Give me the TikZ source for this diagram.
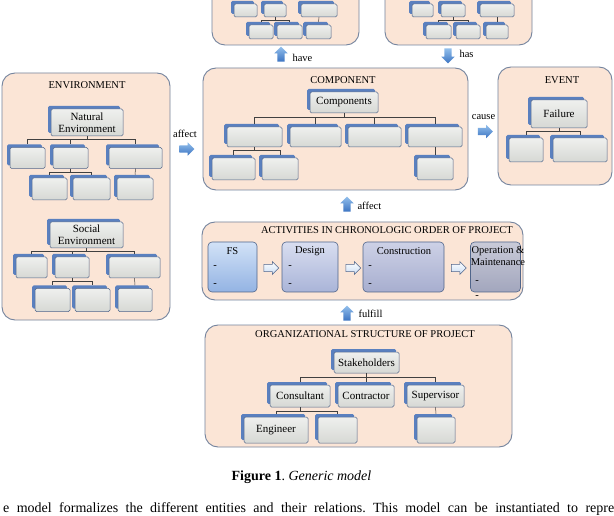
\documentclass[tikz,border=0pt]{standalone}
\usepackage{fontspec}
\setmainfont{Liberation Serif}
\usetikzlibrary{shadows,shapes.arrows}

\definecolor{peach}{HTML}{FBE5D6}
\definecolor{grpline}{HTML}{74849E}
\definecolor{boxline}{HTML}{50658A}
\definecolor{leaftop}{HTML}{EFF0EE}
\definecolor{leafbot}{HTML}{D6D8D4}
\definecolor{shadowblue}{HTML}{5A80BF}
\definecolor{arrowtop}{HTML}{92BFEC}
\definecolor{arrowbot}{HTML}{3C74C2}
\definecolor{arrowpale}{HTML}{C9DDF5}
\definecolor{fstop}{HTML}{D2E2F7}
\definecolor{fsbot}{HTML}{93B3E3}
\definecolor{destop}{HTML}{D9DEF0}
\definecolor{desbot}{HTML}{A9B4D8}
\definecolor{contop}{HTML}{CDD1E6}
\definecolor{conbot}{HTML}{A7AECF}
\definecolor{omtop}{HTML}{C9CAD8}
\definecolor{ombot}{HTML}{A2A6BD}

\begin{document}
\frenchspacing
\begin{tikzpicture}[x=1pt,y=-1pt,
    group/.style={draw=grpline,line width=0.9pt,fill=peach,rounded corners=13pt},
    leaf/.style 2 args={draw=boxline,line width=0.5pt,rounded corners=1.5pt,
      top color=leaftop,bottom color=leafbot,minimum width=#1,minimum height=#2,
      inner sep=0pt,align=center,font=\fontsize{11}{12}\selectfont,
      drop shadow={shadow xshift=-3pt,shadow yshift=3pt,fill=shadowblue,opacity=1}},
    tree/.style={draw=black!75,line width=0.5pt},
    title/.style={font=\fontsize{10.5}{12}\selectfont},
    label/.style={font=\fontsize{10.5}{12}\selectfont},
    bigarrow/.style={single arrow,top color=arrowtop,bottom color=arrowbot,
      minimum height=15pt,minimum width=13pt,inner sep=3.5pt,single arrow head extend=3pt},
    stage/.style={draw=boxline,line width=0.6pt,rounded corners=4pt,
      minimum height=50pt,inner sep=0pt},
    steparrow/.style={single arrow,draw=boxline,line width=0.5pt,top color=white,
      bottom color=arrowpale,minimum height=15pt,minimum width=13pt,inner sep=3pt,
      single arrow head extend=2.5pt}]
  \clip (0,0) rectangle (614,516);
  \fill[white] (0,0) rectangle (614,516);

  % the seven groups
  \draw[group] (212,-40) rectangle (359,45);
  \draw[group] (385,-40) rectangle (532,45);
  \draw[group] (2,73) rectangle (170,320);
  \draw[group] (203,68) rectangle (468,190);
  \draw[group] (498,67) rectangle (612,185);
  \draw[group] (202,222) rectangle (523,300);
  \draw[group] (205,325) rectangle (512,447);

  % top groups (cut off)
  \foreach \n/\x/\w in {t1/245.5/23,t2/275/22,t3/319/36,r1/422.5/21,r2/453/24,r3/497/34}
    \node[leaf={\w pt}{13pt}] (\n) at (\x,10.5) {};
  \foreach \n/\x/\w in {t4/261/24,t5/289.5/25,t6/318.5/25,r4/438.5/25,r5/468/24,r6/497/22}
    \node[leaf={\w pt}{14pt}] (\n) at (\x,32) {};
  \foreach \c in {t4,t5} \draw[tree] (t2.south) -- ++(0,3) -| ([yshift=3pt]\c.north);
  \draw[tree] (t3.south) -- ([yshift=3pt]t6.north);
  \foreach \c in {r4,r5} \draw[tree] (r2.south) -- ++(0,3) -| ([yshift=3pt]\c.north);
  \draw[tree] (r3.south) -- ([yshift=3pt]r6.north);

  \node[bigarrow,shape border rotate=90] (havearr) at (281,56) {};
  \node[label,anchor=west] (have) at (289,58) {have};
  \node[bigarrow,shape border rotate=270] (hasarr) at (448,54) {};
  \node[label,anchor=west] (has) at (456,54) {has};

  % environment
  \node[title] (envtitle) at (87,85) {ENVIRONMENT};
  \node[leaf={72pt}{27pt}] (nat) at (87,122.5) {Natural\\Environment};
  \foreach \n/\x/\w in {n1/27.5/35,n2/70.5/35,n3/135.5/53}
    \node[leaf={\w pt}{21pt}] (\n) at (\x,158) {};
  \foreach \n/\x/\w in {n4/49.5/35,n5/91.5/37,n6/135/36}
    \node[leaf={\w pt}{22pt}] (\n) at (\x,189) {};
  \foreach \c in {n1,n2,n3} \draw[tree] (nat.south) -- ++(0,3.5) -| ([yshift=3pt]\c.north);
  \foreach \c in {n4,n5} \draw[tree] (n2.south) -- ++(0,3.5) -| ([yshift=3pt]\c.north);
  \draw[tree] (n3.south) -- ([yshift=3pt]n6.north);

  \node[leaf={73pt}{26pt}] (soc) at (86.5,235) {Social\\Environment};
  \foreach \n/\x/\w in {s1/31.5/31,s2/72/34,s3/134.5/51}
    \node[leaf={\w pt}{21pt}] (\n) at (\x,267.5) {};
  \foreach \n/\x/\w in {s4/52.5/35,s5/92.5/35,s6/135/34}
    \node[leaf={\w pt}{23pt}] (\n) at (\x,300) {};
  \foreach \c in {s1,s2,s3} \draw[tree] (soc.south) -- ++(0,3.5) -| ([yshift=3pt]\c.north);
  \foreach \c in {s4,s5} \draw[tree] (s2.south) -- ++(0,3.5) -| ([yshift=3pt]\c.north);
  \draw[tree] (s3.south) -- ([yshift=3pt]s6.north);

  \node[label] (affect1) at (185,134) {affect};
  \node[bigarrow] (affectarr1) at (185,149) {};

  % component
  \node[title] (comptitle) at (343,80) {COMPONENT};
  \node[leaf={68pt}{21pt}] (comps) at (344,102.5) {Components};
  \foreach \n/\x/\w in {c1/254.5/55,c2/315.5/51,c3/374.5/53,c4/435/54}
    \node[leaf={\w pt}{20pt}] (\n) at (\x,137) {};
  \foreach \n/\x/\w in {c5/233.5/43,c6/280/36,c7/435/36}
    \node[leaf={\w pt}{22pt}] (\n) at (\x,169) {};
  \foreach \c in {c1,c2,c3,c4} \draw[tree] (comps.south) -- ++(0,4.5) -| ([yshift=3pt]\c.north);
  \foreach \c in {c5,c6} \draw[tree] (c1.south) -- ++(0,3.5) -| ([yshift=3pt]\c.north);
  \draw[tree] (c4.south) -- ([yshift=3pt]c7.north);

  \node[label] (cause) at (483.5,117) {cause};
  \node[bigarrow] (causearr) at (483.5,131.5) {};

  % event
  \node[title] (eventtitle) at (562,80) {EVENT};
  \node[leaf={56pt}{28pt}] (fail) at (559,114) {Failure};
  \node[leaf={34pt}{24pt}] (e1) at (526,150) {};
  \node[leaf={54pt}{24pt}] (e2) at (580,150) {};
  \foreach \c in {e1,e2} \draw[tree] (fail.south) -- ++(0,3.5) -| ([yshift=3pt]\c.north);

  \node[bigarrow,shape border rotate=90] (affectarr2) at (347,206) {};
  \node[label,anchor=west] (affect2) at (354,206) {affect};

  % activities
  \node[title] (acttitle) at (387,230) {ACTIVITIES IN CHRONOLOGIC ORDER OF PROJECT};
  \node[stage,minimum width=49pt,top color=fstop,bottom color=fsbot] (fs) at (232.5,267) {};
  \node[stage,minimum width=56pt,top color=destop,bottom color=desbot] (des) at (310,267) {};
  \node[stage,minimum width=81pt,top color=contop,bottom color=conbot] (con) at (403.5,267) {};
  \node[stage,minimum width=50pt,top color=omtop,bottom color=ombot] (om) at (495.5,267) {};
  \node[steparrow] (step1) at (269.5,268) {};
  \node[steparrow] (step2) at (351.5,268) {};
  \node[steparrow] (step3) at (457,268) {};
  \node[label] (fstext) at (232.5,251) {FS};
  \node[label] (destext) at (310,251) {Design};
  \node[label] (context) at (404,251) {Construction};
  \node[label,align=center] (omtext) at (498,256) {Operation \&\\Maintenance};
  \foreach \x/\y in {215/267,215/285,290/267,290/285,370/267,370/285,477/282,477/297}
    \node[label] at (\x,\y) {-};

  \node[bigarrow,shape border rotate=90] (fulfillarr) at (347,315) {};
  \node[label,anchor=west] (fulfill) at (355,314) {fulfill};

  % organizational structure
  \node[title] (orgtitle) at (365,334) {ORGANIZATIONAL STRUCTURE OF PROJECT};
  \node[leaf={65pt}{21pt}] (stk) at (366.5,362.5) {Stakeholders};
  \node[leaf={60pt}{22pt}] (cons) at (300,396) {Consultant};
  \node[leaf={56pt}{22pt}] (ctr) at (366,396) {Contractor};
  \node[leaf={57pt}{22pt}] (sup) at (435.5,396) {Supervisor};
  \node[leaf={64pt}{26pt}] (eng) at (276,430) {Engineer};
  \node[leaf={39pt}{26pt}] (o5) at (337.5,430) {};
  \node[leaf={38pt}{26pt}] (o6) at (436,430) {};
  \foreach \c in {cons,ctr,sup} \draw[tree] (stk.south) -- ++(0,4) -| ([yshift=3pt]\c.north);
  \foreach \c in {eng,o5} \draw[tree] (cons.south) -- ++(0,4) -| ([yshift=3pt]\c.north);
  \draw[tree] (sup.south) -- ([yshift=3pt]o6.north);

  % caption and running text
  \node[font=\fontsize{14}{16}\selectfont,anchor=base] (caption) at (301.5,480)
    {\textbf{Figure 1}. \textit{Generic model}};
  \node[font=\fontsize{14}{16}\selectfont,anchor=base west,inner sep=0pt] (bodytext) at (3,512)
    {\makebox[611pt][s]{e model formalizes the different entities and their relations. This model can be instantiated to repre}};
\end{tikzpicture}
\end{document}
